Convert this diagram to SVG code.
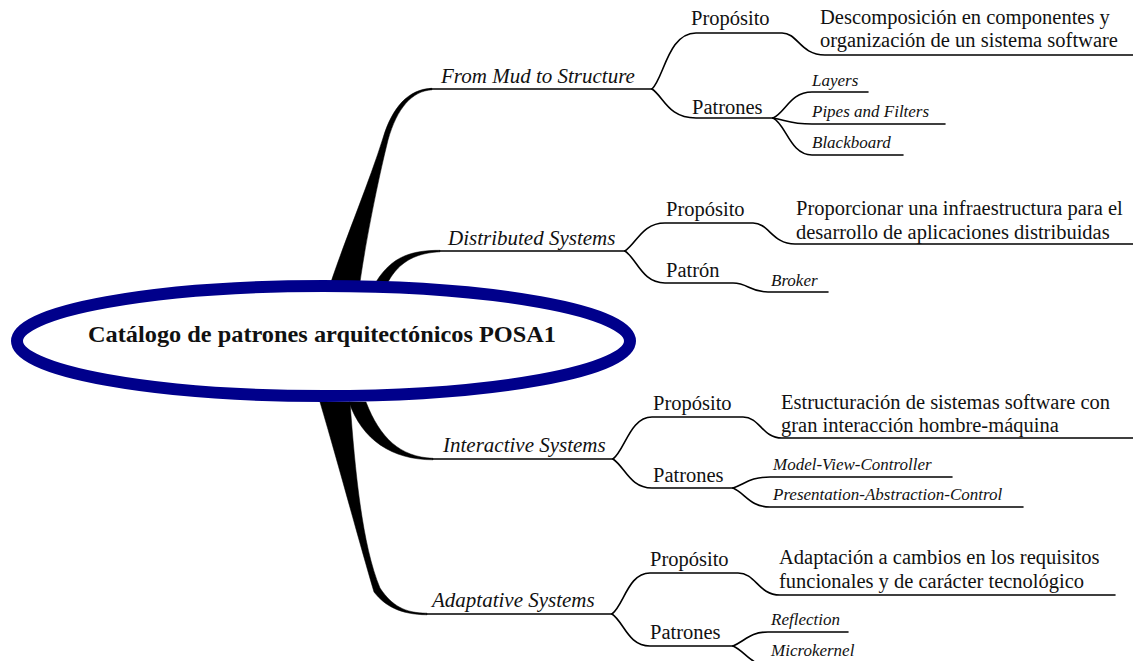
<svg xmlns="http://www.w3.org/2000/svg" width="1133" height="661" viewBox="0 0 1133 661">
<style>
.ln{fill:none;stroke:#000;stroke-width:1.6;stroke-linecap:round}
.br{fill:#000;stroke:#000;stroke-width:0.5}
.t{font-family:"Liberation Serif","Times New Roman",serif;font-size:20.5px;fill:#111}
.m{font-family:"Liberation Serif","Times New Roman",serif;font-size:21px;font-style:italic;fill:#111}
.l{font-family:"Liberation Serif","Times New Roman",serif;font-size:17px;font-style:italic;fill:#111}
.root{font-family:"Liberation Serif","Times New Roman",serif;font-size:24px;font-weight:bold;fill:#111}
</style>
<rect width="1133" height="661" fill="#fff"/>
<g id="connectors">
  <!-- thick main branches -->
  <path class="br" d="M331,282 C345,240 370,180 383,138 C392,108 408,89 432,88.3 L432,89.8 C412,91 397,108 388,140 C378,180 366,240 360,282 Z"/>
  <path class="br" d="M376,282 C392,256 412,250.3 440,250.3 L440,251.8 C418,253 400,260 388,282 Z"/>
  <path class="br" d="M349,402 C362,440 392,459.8 433,459.8 L433,458.3 C400,457 380,438 366,402 Z"/>
  <path class="br" d="M320,402 L350,402 C355,470 362,545 380,588 C392,606 405,613 427,613.2 L427,614.8 C400,614.5 385,606 374,592 C360,545 340,470 320,402 Z"/>
  <!-- main lines -->
  <path class="ln" d="M430,89 L652,89"/>
  <path class="ln" d="M440,251 L625,251"/>
  <path class="ln" d="M433,459 L613,459"/>
  <path class="ln" d="M427,614 L612,614"/>
  <!-- From Mud to Structure -->
  <path class="ln" d="M652,89 C664,78 668,33 696,33 L782,33 C798,33 800,55 825,55 L1133,55"/>
  <path class="ln" d="M652,89 C664,97 668,118 696,118 L773,118"/>
  <path class="ln" d="M773,118 C786,112 790,92 812,92 L868,92"/>
  <path class="ln" d="M773,118 C786,120 790,124 812,124 L945,124"/>
  <path class="ln" d="M773,118 C786,124 790,155 812,155 L903,155"/>
  <!-- Distributed Systems -->
  <path class="ln" d="M625,251 C637,243 642,223 665,223 L753,223 C769,223 772,244 795,244 L1133,244"/>
  <path class="ln" d="M625,251 C637,259 642,283 665,283 L733,283 C748,283 750,292 768,292 L828,292"/>
  <!-- Interactive Systems -->
  <path class="ln" d="M613,459 C625,450 630,417 652,417 L743,417 C760,417 762,438 782,438 L1133,438"/>
  <path class="ln" d="M613,459 C625,467 630,488 652,488 L733,488"/>
  <path class="ln" d="M733,488 C745,484 750,477 770,477 L952,477"/>
  <path class="ln" d="M733,488 C745,493 750,507 770,507 L1023,507"/>
  <!-- Adaptative Systems -->
  <path class="ln" d="M612,614 C624,605 628,573 650,573 L738,573 C756,573 758,595 780,595 L1115,595"/>
  <path class="ln" d="M612,614 C624,622 628,646 650,646 L733,646"/>
  <path class="ln" d="M733,646 C745,641 750,632 768,632 L848,632"/>
  <path class="ln" d="M733,646 C745,651 750,665 768,665 L870,665"/>
</g>
<g id="root">
  <ellipse cx="323.5" cy="341" rx="306.5" ry="55" fill="#fff" stroke="#00008B" stroke-width="12"/>
  <text class="root" x="88" y="342" textLength="468" lengthAdjust="spacingAndGlyphs">Catálogo de patrones arquitectónicos POSA1</text>
</g>
<g id="n-mud">
  <text class="m" x="441" y="83">From Mud to Structure</text>
</g>
<g id="n-mud-proposito">
  <text class="t" x="691" y="25">Propósito</text>
</g>
<g id="n-mud-proposito-text">
  <text class="t" x="820" y="24">Descomposición en componentes y</text>
  <text class="t" x="820" y="47">organización de un sistema software</text>
</g>
<g id="n-mud-patrones">
  <text class="t" x="692" y="114">Patrones</text>
</g>
<g id="n-layers"><text class="l" x="812" y="86">Layers</text></g>
<g id="n-pipes"><text class="l" x="812" y="117">Pipes and Filters</text></g>
<g id="n-blackboard"><text class="l" x="812" y="148">Blackboard</text></g>
<g id="n-dist">
  <text class="m" x="448" y="245">Distributed Systems</text>
</g>
<g id="n-dist-proposito"><text class="t" x="666" y="216">Propósito</text></g>
<g id="n-dist-proposito-text">
  <text class="t" x="796" y="215">Proporcionar una infraestructura para el</text>
  <text class="t" x="796" y="239">desarrollo de aplicaciones distribuidas</text>
</g>
<g id="n-dist-patron"><text class="t" x="666" y="277">Patrón</text></g>
<g id="n-broker"><text class="l" x="771" y="286">Broker</text></g>
<g id="n-inter">
  <text class="m" x="443" y="452">Interactive Systems</text>
</g>
<g id="n-inter-proposito"><text class="t" x="653" y="410">Propósito</text></g>
<g id="n-inter-proposito-text">
  <text class="t" x="781" y="409">Estructuración de sistemas software con</text>
  <text class="t" x="781" y="432">gran interacción hombre-máquina</text>
</g>
<g id="n-inter-patrones"><text class="t" x="653" y="482">Patrones</text></g>
<g id="n-mvc"><text class="l" x="773" y="470">Model-View-Controller</text></g>
<g id="n-pac"><text class="l" x="773" y="500">Presentation-Abstraction-Control</text></g>
<g id="n-adapt">
  <text class="m" x="432" y="607">Adaptative Systems</text>
</g>
<g id="n-adapt-proposito"><text class="t" x="650" y="566">Propósito</text></g>
<g id="n-adapt-proposito-text">
  <text class="t" x="779" y="564">Adaptación a cambios en los requisitos</text>
  <text class="t" x="779" y="588">funcionales y de carácter tecnológico</text>
</g>
<g id="n-adapt-patrones"><text class="t" x="650" y="639">Patrones</text></g>
<g id="n-reflection"><text class="l" x="771" y="625">Reflection</text></g>
<g id="n-microkernel"><text class="l" x="771" y="656">Microkernel</text></g>
</svg>
